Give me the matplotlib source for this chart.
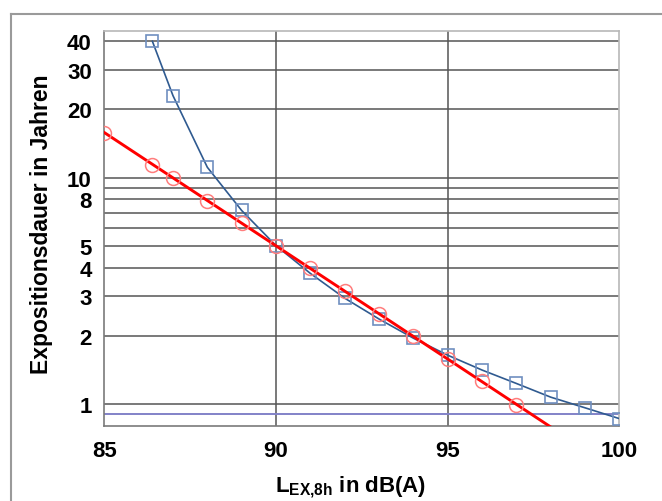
import matplotlib
matplotlib.use("Agg")
import matplotlib.pyplot as plt
from matplotlib.lines import Line2D

# ---- data ----
blue_x = [86.4, 87, 88, 89, 90, 91, 92, 93, 94, 95, 96, 97, 98, 99, 100]
blue_y = [40, 23, 11.1, 7.15, 5.0, 3.77, 2.93, 2.37, 1.95, 1.64, 1.41, 1.23, 1.07, 0.96, 0.86]

red_x = [85, 86.4, 87, 88, 89, 90, 91, 92, 93, 94, 95, 96, 97]
red_y = [15.8, 11.4, 10.0, 7.9, 6.3, 5.0, 4.0, 3.15, 2.5, 2.0, 1.58, 1.26, 0.99]
red_line_x = [85, 98]
red_line_y = [15.8, 0.79]

limit_y = 0.9

y_ticks = [1, 2, 3, 4, 5, 6, 7, 8, 9, 10, 20, 30, 40]
y_labels = ["1", "2", "3", "4", "5", "", "", "8", "", "10", "20", "30", "40"]
x_ticks = [85, 90, 95, 100]
x_labels = ["85", "90", "95", "100"]

ylabel = "Expositionsdauer in Jahren"

plt.rcParams['font.family'] = ['Liberation Sans', 'DejaVu Sans']
plt.rcParams['mathtext.fontset'] = 'custom'
plt.rcParams['mathtext.rm'] = 'Liberation Sans:bold'
plt.rcParams['mathtext.bf'] = 'Liberation Sans:bold'
plt.rcParams['mathtext.it'] = 'Liberation Sans:bold'

fig = plt.figure(figsize=(6.62, 5.02), dpi=100)
ax = fig.add_axes([0.1576, 0.15, 0.7779, 0.7857])

ax.set_yscale('log')
ax.set_xlim(85, 100)
ax.set_ylim(0.80, 44.3)

# grid
for yv in y_ticks:
    ax.axhline(yv, color='#555555', lw=1.1, zorder=1)
for xv in [90, 95]:
    ax.axvline(xv, color='#555555', lw=1.1, zorder=1)
ax.axhline(limit_y, color='#8282c8', lw=1.4, zorder=1)

ax.plot(blue_x, blue_y, color='#2f5a90', lw=1.2, zorder=3)
ax.plot(blue_x, blue_y, ls='none', marker='s', ms=9, mfc='none',
        mec='#6f8fc0', mew=1.2, zorder=4)
ax.plot(red_line_x, red_line_y, color='#ff0000', lw=2.1, zorder=5)
ax.plot(red_x, red_y, ls='none', marker='o', ms=10, mfc='none',
        mec='#ff7d7d', mew=1.1, zorder=6)

ax.set_yticks(y_ticks)
ax.set_yticklabels(y_labels)
ax.yaxis.set_minor_locator(matplotlib.ticker.NullLocator())
ax.set_xticks(x_ticks)
ax.set_xticklabels(x_labels)
ax.tick_params(axis='both', length=0, labelsize=16)
ax.tick_params(axis='y', pad=9)
ax.tick_params(axis='x', pad=10)
for lab in ax.get_xticklabels() + ax.get_yticklabels():
    lab.set_fontweight('bold')

for side in ['top', 'right']:
    ax.spines[side].set_color('#b8b8b8')
for side in ['left', 'bottom']:
    ax.spines[side].set_color('#7a7a7a')
for s in ax.spines.values():
    s.set_linewidth(1.2)
    s.set_zorder(2)

fig.text(0.0634, 0.554, ylabel, rotation=90, ha='center', va='center',
         fontsize=16.5, fontweight='bold')
fig.text(0.530, 0.030, r'$\mathbf{L_{EX{,}8h}}$ in dB(A)', ha='center', va='center',
         fontsize=16, fontweight='bold')

# outer frame
fig.add_artist(Line2D([10.5 / 662, 10.5 / 662], [0, 1 - 15 / 502],
                      transform=fig.transFigure, color='#9a9a9a', lw=1.5))
fig.add_artist(Line2D([10.5 / 662, 1], [1 - 15 / 502, 1 - 15 / 502],
                      transform=fig.transFigure, color='#9a9a9a', lw=1.5))

fig.savefig('out.png', dpi=100)
